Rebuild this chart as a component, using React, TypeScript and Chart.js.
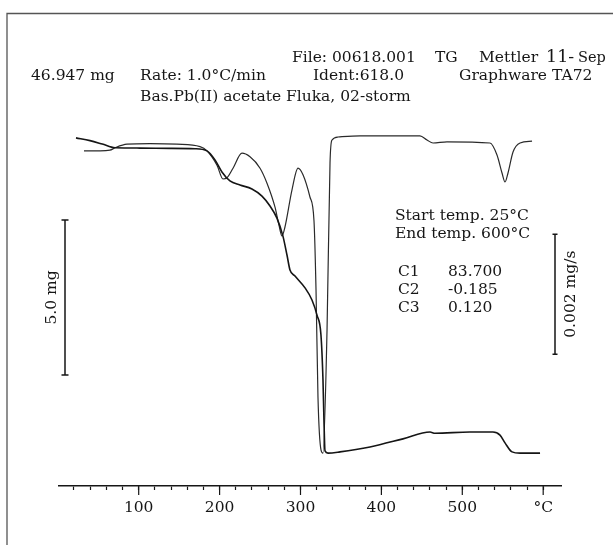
import React, { useEffect, useRef } from 'react';
import { Chart, registerables } from 'chart.js';

Chart.register(...registerables);

// ---- TG curve (sample mass, mg) ----
const tgTemps = [22.5, 39.8, 55, 70.7, 101.6, 138.7, 169.6, 184.4, 194.3, 202.9, 212.8, 225.2, 240.0, 252.4, 262.3, 270.9, 278.3, 283.3, 287.0, 293.2, 305.6, 314.2, 320.4, 325.3, 327.8, 329.0, 330.3, 334.0, 348.8, 385.9, 426.7, 460.1, 466.3, 509.5, 537.9, 546.6, 552.8, 561.5, 571.4, 596.1];
const tgMass = [46.92, 46.83, 46.72, 46.60, 46.59, 46.58, 46.57, 46.50, 46.21, 45.82, 45.53, 45.40, 45.27, 45.04, 44.72, 44.33, 43.75, 43.14, 42.66, 42.46, 42.08, 41.69, 41.20, 40.56, 39.11, 37.82, 36.82, 36.75, 36.79, 36.95, 37.21, 37.43, 37.39, 37.43, 37.43, 37.33, 37.08, 36.79, 36.75, 36.75];

// ---- DTG curve (mass-loss rate, µg/s) ----
const dtgTemps = [32.4, 52.2, 64.5, 70.7, 85.5, 114.0, 147.3, 175.8, 184.4, 196.8, 204.2, 209.1, 216.6, 227.7, 237.6, 250.0, 258.6, 268.5, 273.4, 277.1, 280.8, 289.5, 296.9, 303.1, 311.7, 316.7, 319.2, 321.6, 325.4, 327.8, 332.8, 336.5, 339.0, 346.4, 373.6, 447.7, 456.4, 463.8, 481.1, 534.2, 542.9, 549.1, 552.8, 556.5, 562.7, 571.4, 586.2];
const dtgRate = [-0.23, -0.23, -0.22, -0.18, -0.12, -0.11, -0.12, -0.16, -0.23, -0.47, -0.70, -0.68, -0.52, -0.27, -0.33, -0.52, -0.77, -1.17, -1.47, -1.65, -1.50, -0.88, -0.52, -0.63, -1.00, -1.40, -2.55, -4.33, -5.22, -5.27, -3.22, -0.43, -0.05, 0.00, 0.02, 0.02, -0.05, -0.10, -0.08, -0.10, -0.30, -0.60, -0.75, -0.60, -0.25, -0.10, -0.07];

// ---- x axis ticks ----
const xTickValues = [20, 40, 60, 80, 100, 120, 140, 160, 180, 200, 220, 240, 260, 280, 300, 320, 340, 360, 380, 400, 420, 440, 460, 480, 500, 520, 540, 560, 580, 600];
const xMajorValues = [100, 200, 300, 400, 500, 600];
const xMajorLabels = ['100', '200', '300', '400', '500', '°C'];

// ---- scale bars ----
const massBarTop = 44.27; // mg
const massBarSpan = 5.0; // mg  ("5.0 mg")
const rateBarTop = -1.62; // µg/s
const rateBarSpan = 2.0; // µg/s ("0.002 mg/s")

const headerTexts: [string, number, number, number][] = [
  ['File: 00618.001', 292, 58, 15.5],
  ['TG', 435, 58, 15.5],
  ['Mettler', 479, 58, 15.5],
  ['11-', 546, 57, 17.5],
  ['Sep', 578, 58, 14.5],
  ['46.947 mg', 31, 76, 15.5],
  ['Rate: 1.0°C/min', 140, 76, 15.5],
  ['Ident:618.0', 313, 76, 15.5],
  ['Graphware TA72', 459, 76, 15.5],
  ['Bas.Pb(II) acetate Fluka, 02-storm', 140, 97, 15.5],
  ['Start temp. 25°C', 395, 216, 15.5],
  ['End temp. 600°C', 395, 234, 15.5],
  ['C1', 398, 272, 15.5],
  ['83.700', 448, 272, 15.5],
  ['C2', 398, 290, 15.5],
  ['-0.185', 448, 290, 15.5],
  ['C3', 398, 308, 15.5],
  ['0.120', 448, 308, 15.5],
];

const FONT = '"DejaVu Serif", "Liberation Serif", serif';
const INK = '#161616';

const annotPlugin = {
  id: 'annot',
  afterDraw(chart: any) {
    const ctx = chart.ctx as CanvasRenderingContext2D;
    const area = chart.chartArea;
    const xs = chart.scales.x;
    const ys = chart.scales.y;
    const y1s = chart.scales.y1;
    ctx.save();
    // frame
    ctx.strokeStyle = '#555';
    ctx.lineWidth = 1.3;
    ctx.beginPath();
    ctx.moveTo(7, 545);
    ctx.lineTo(7, 13.5);
    ctx.lineTo(613, 13.5);
    ctx.stroke();

    // major tick extension
    ctx.strokeStyle = INK;
    ctx.lineWidth = 1.2;
    xMajorValues.forEach((v) => {
      const px = xs.getPixelForValue(v);
      ctx.beginPath();
      ctx.moveTo(px, area.bottom);
      ctx.lineTo(px, area.bottom + 9);
      ctx.stroke();
    });

    // texts
    ctx.fillStyle = INK;
    ctx.textBaseline = 'middle';
    ctx.textAlign = 'left';
    headerTexts.forEach(([t, x, y, s]) => {
      ctx.font = `${s}px ${FONT}`;
      ctx.fillText(t, x, y);
    });

    // mass scale bar
    ctx.lineWidth = 1.5;
    const mTop = ys.getPixelForValue(massBarTop);
    const mBot = ys.getPixelForValue(massBarTop - massBarSpan);
    const mx = 65;
    ctx.beginPath();
    ctx.moveTo(mx, mTop); ctx.lineTo(mx, mBot);
    ctx.moveTo(mx - 3.5, mTop); ctx.lineTo(mx + 3.5, mTop);
    ctx.moveTo(mx - 3.5, mBot); ctx.lineTo(mx + 3.5, mBot);
    ctx.stroke();
    // rate scale bar
    const rTop = y1s.getPixelForValue(rateBarTop);
    const rBot = y1s.getPixelForValue(rateBarTop - rateBarSpan);
    const rx = 555;
    ctx.beginPath();
    ctx.moveTo(rx, rTop); ctx.lineTo(rx, rBot);
    ctx.moveTo(rx - 2.5, rTop); ctx.lineTo(rx + 2.5, rTop);
    ctx.moveTo(rx - 2.5, rBot); ctx.lineTo(rx + 2.5, rBot);
    ctx.stroke();

    // rotated labels
    ctx.font = `15.5px ${FONT}`;
    ctx.textAlign = 'center';
    ctx.save();
    ctx.translate(52, (mTop + mBot) / 2);
    ctx.rotate(-Math.PI / 2);
    ctx.fillText('5.0 mg', 0, 0);
    ctx.restore();
    ctx.save();
    ctx.translate(571, (rTop + rBot) / 2);
    ctx.rotate(-Math.PI / 2);
    ctx.fillText('0.002 mg/s', 0, 0);
    ctx.restore();

    ctx.restore();
  },
};

export default function App() {
  const ref = useRef<HTMLCanvasElement | null>(null);
  useEffect(() => {
    if (!ref.current) return;
    const chart = new Chart(ref.current, {
      type: 'line',
      data: {
        datasets: [
          {
            label: 'TG',
            data: tgTemps.map((t, i) => ({ x: t, y: tgMass[i] })),
            borderColor: '#151515',
            borderWidth: 1.6,
            pointRadius: 0,
            cubicInterpolationMode: 'monotone',
            yAxisID: 'y',
          },
          {
            label: 'DTG',
            data: dtgTemps.map((t, i) => ({ x: t, y: dtgRate[i] })),
            borderColor: '#2a2a2a',
            borderWidth: 1.2,
            pointRadius: 0,
            cubicInterpolationMode: 'monotone',
            yAxisID: 'y1',
          },
        ],
      },
      options: {
        animation: false,
        responsive: false,
        events: [],
        layout: { padding: { left: 58.6, right: 51.2, top: 100, bottom: 0 } },
        plugins: { legend: { display: false }, tooltip: { enabled: false } },
        scales: {
          x: {
            type: 'linear',
            min: 1,
            max: 623,
            afterBuildTicks: (s: any) => {
              s.ticks = xTickValues.map((v) => ({ value: v }));
            },
            afterFit: (s: any) => {
              s.height = 59;
            },
            grid: { drawOnChartArea: false, drawTicks: true, tickLength: 4, tickColor: INK, tickWidth: 1.2 },
            border: { display: true, color: INK, width: 1.6 },
            ticks: {
              autoSkip: false,
              maxRotation: 0,
              minRotation: 0,
              padding: 8.7,
              color: INK,
              font: { family: FONT, size: 15.5 },
              callback: (v: any) => {
                const i = xMajorValues.indexOf(Number(v));
                return i >= 0 ? xMajorLabels[i] : '';
              },
            },
          },
          y: { display: false, min: 35.689, max: 48.141 },
          y1: { display: false, min: -5.8167, max: 0.6167 },
        },
      },
      plugins: [annotPlugin],
    });
    return () => chart.destroy();
  }, []);
  return (
    <div style={{ position: 'absolute', left: 0, top: 0, width: 613, height: 545, background: '#fff' }}>
      <canvas ref={ref} width={613} height={545} style={{ display: 'block', width: 613, height: 545 }} />
    </div>
  );
}
